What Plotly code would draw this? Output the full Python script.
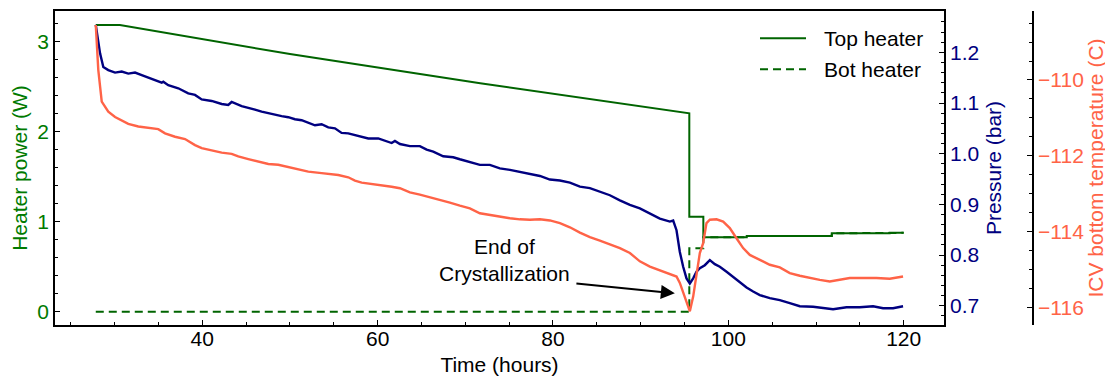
import plotly.graph_objects as go

# ---------------- data ----------------
top_hours = [27.85, 30.6, 50.0, 71.7, 95.55, 95.55, 97.15, 97.15, 102.1, 102.1, 111.8, 111.8, 118.4, 118.4, 120.0]
top_power = [3.185, 3.185, 2.863, 2.538, 2.204, 1.056, 1.056, 0.827, 0.827, 0.841, 0.841, 0.871, 0.871, 0.876, 0.876]

bot_hours = [27.85, 95.55, 95.55, 97.15, 97.15, 102.1, 102.1, 111.8, 111.8, 118.4, 118.4, 120.0]
bot_power = [0.0, 0.0, 0.704, 0.704, 0.827, 0.827, 0.841, 0.841, 0.871, 0.871, 0.876, 0.876]

p_hours = [27.85, 28.34, 28.71, 29.28, 30.05, 30.81, 31.56, 32.33, 33.09, 33.84, 34.61, 35.37,
           35.55, 36.12, 37.26, 38.40, 39.17, 39.93, 41.07, 42.21, 42.96, 43.35, 44.49, 45.25,
           46.01, 46.77, 47.91, 49.05, 49.81, 50.57, 51.33, 52.09, 52.85, 53.61, 54.37, 55.13,
           55.89, 56.65, 57.41, 58.18, 58.93, 60.07, 60.83, 61.60, 61.97, 62.54, 63.68, 64.82,
           65.59, 66.34, 67.48, 68.62, 69.38, 70.52, 71.66, 72.80, 73.94, 75.09, 76.23, 77.37,
           78.51, 79.65, 80.79, 81.93, 83.07, 84.21, 85.35, 86.49, 87.63, 88.77, 89.91, 91.05,
           92.19, 93.33, 93.71, 94.09, 94.47, 94.85, 95.23, 95.61, 95.99, 96.37, 96.75, 97.32,
           97.89, 98.46, 99.03, 99.80, 100.55, 101.31, 102.08, 102.83, 103.59, 104.73, 105.87,
           107.01, 108.15, 109.67, 110.81, 111.95, 113.48, 114.99, 116.51, 117.65, 118.79, 119.93]
pressure = [1.254, 1.198, 1.171, 1.165, 1.160, 1.162, 1.158, 1.160, 1.155, 1.150, 1.145, 1.140,
            1.142, 1.135, 1.129, 1.119, 1.116, 1.107, 1.104, 1.098, 1.096, 1.102, 1.094, 1.091,
            1.087, 1.083, 1.078, 1.074, 1.072, 1.068, 1.066, 1.061, 1.056, 1.058, 1.052, 1.050,
            1.041, 1.040, 1.037, 1.033, 1.030, 1.030, 1.025, 1.021, 1.025, 1.019, 1.015, 1.015,
            1.008, 1.004, 0.995, 0.993, 0.989, 0.984, 0.978, 0.978, 0.971, 0.968, 0.964, 0.960,
            0.956, 0.949, 0.947, 0.943, 0.935, 0.932, 0.925, 0.918, 0.908, 0.899, 0.892, 0.882,
            0.872, 0.866, 0.868, 0.849, 0.806, 0.777, 0.754, 0.744, 0.754, 0.767, 0.774, 0.780,
            0.790, 0.782, 0.777, 0.767, 0.757, 0.747, 0.736, 0.728, 0.721, 0.715, 0.711,
            0.705, 0.699, 0.698, 0.695, 0.693, 0.697, 0.697, 0.699, 0.695, 0.695, 0.699]

t_hours = [27.85, 28.14, 28.53, 28.91, 29.28, 30.05, 30.81, 31.56, 32.70, 33.84, 34.98, 35.75,
           36.89, 38.03, 39.17, 39.93, 41.07, 42.21, 43.35, 44.10, 45.25, 46.39, 47.53, 48.67,
           49.81, 50.95, 52.09, 53.61, 54.37, 55.51, 56.65, 57.41, 58.18, 59.32, 60.46, 61.60,
           62.54, 63.68, 64.82, 65.96, 67.10, 68.24, 69.38, 70.52, 71.66, 72.80, 73.94, 75.09,
           76.23, 77.37, 78.51, 79.65, 80.79, 81.93, 83.07, 84.21, 85.35, 86.49, 87.63, 88.77,
           89.91, 91.05, 92.19, 93.33, 94.09, 94.47, 94.85, 95.23, 95.61, 95.99, 96.37, 96.75,
           97.13, 97.51, 97.89, 98.65, 99.41, 100.17, 100.93, 101.69, 102.45, 103.59, 104.73,
           105.87, 107.01, 108.15, 109.29, 110.43, 111.57, 112.71, 113.85, 115.37, 116.89,
           118.41, 119.93]
temperature = [-108.55, -109.74, -110.57, -110.72, -110.84, -110.98, -111.06, -111.16, -111.23,
               -111.27, -111.30, -111.41, -111.50, -111.56, -111.72, -111.80, -111.87, -111.92,
               -111.95, -112.02, -112.09, -112.16, -112.22, -112.24, -112.30, -112.36, -112.42,
               -112.46, -112.48, -112.51, -112.57, -112.66, -112.71, -112.74, -112.77, -112.82,
               -112.86, -112.97, -113.03, -113.10, -113.15, -113.24, -113.32, -113.39, -113.52,
               -113.56, -113.62, -113.65, -113.68, -113.69, -113.68, -113.71, -113.78, -113.89,
               -114.03, -114.15, -114.24, -114.33, -114.44, -114.57, -114.79, -114.93, -115.03,
               -115.12, -115.19, -115.36, -115.63, -115.89, -116.11, -115.72, -115.19, -114.57,
               -114.31, -113.78, -113.69, -113.68, -113.74, -113.91, -114.18, -114.44, -114.62,
               -114.75, -114.88, -114.95, -115.10, -115.17, -115.23, -115.28, -115.32, -115.28,
               -115.23, -115.23, -115.23, -115.25, -115.19]

x_ticks = [40, 60, 80, 100, 120]
power_ticks = [0, 1, 2, 3]
pressure_ticks = [0.7, 0.8, 0.9, 1.0, 1.1, 1.2]
temp_ticks = [-116, -114, -112, -110]

legend_names = ["Top heater", "Bot heater"]

# ---------------- styling ----------------
FONT = "Liberation Sans, Arial, sans-serif"
FS = 21
GREEN = "#006400"
GREEN_TXT = "#007a00"
NAVY = "#000080"
TOMATO = "#ff6347"

OFF = 8  # default page margin of the html body
PAGE_W, PAGE_H = 1113, 376
W, H = PAGE_W - OFF, PAGE_H - OFF
# page pixel positions of the plot frame in the reference
L, R_EDGE, T, B = 55 - OFF, 1033 - OFF, 11 - OFF, 325 - OFF
plot_right = 944 - OFF
x_dom_end = (plot_right - L) / (R_EDGE - L)


def px_x(px):
    return (px - OFF - L) / (R_EDGE - L)


def px_y(py):
    return (B - (py - OFF)) / (B - T)


fig = go.Figure()
fig.add_trace(go.Scatter(x=top_hours, y=top_power, mode="lines", name=legend_names[0],
                         line=dict(color=GREEN, width=2), yaxis="y"))
fig.add_trace(go.Scatter(x=bot_hours, y=bot_power, mode="lines", name=legend_names[1],
                         line=dict(color=GREEN, width=2, dash="8px,5px"), yaxis="y"))
fig.add_trace(go.Scatter(x=p_hours, y=pressure, mode="lines", name="Pressure",
                         line=dict(color=NAVY, width=2.4), yaxis="y2"))
fig.add_trace(go.Scatter(x=t_hours, y=temperature, mode="lines", name="ICV temperature",
                         line=dict(color=TOMATO, width=2.4), yaxis="y3"))

axis_common = dict(showgrid=False, zeroline=False, showline=True, linecolor="black",
                   linewidth=1.8, ticks="inside", ticklen=5, tickwidth=1.2, automargin=False,
                   tickcolor="black")

fig.update_layout(
    width=W, height=H,
    margin=dict(l=L, r=W - R_EDGE, t=T, b=H - B, autoexpand=False),
    plot_bgcolor="white", paper_bgcolor="white",
    font=dict(family=FONT, size=FS, color="black"),
    showlegend=False,
    xaxis=dict(**axis_common, domain=[0, x_dom_end], range=[23.2, 124.6],
               tickvals=x_ticks, mirror=True, ticklabelstandoff=-6,
               tickfont=dict(family=FONT, size=FS, color="black"),
               minor=dict(dtick=5, tick0=0, ticks="inside", ticklen=3, tickcolor="black"),
               title=dict(text="Time (hours)", font=dict(size=FS, color="black"), standoff=8)),
    yaxis=dict(**axis_common, range=[-0.148, 3.341], tickvals=power_ticks, mirror=True,
               tickfont=dict(family=FONT, size=FS, color=GREEN_TXT),
               minor=dict(dtick=0.2, tick0=0, ticks="inside", ticklen=3, tickcolor="black"),
               title=dict(text="Heater power (W)", font=dict(size=FS, color=GREEN_TXT), standoff=5)),
    yaxis2=dict(**axis_common, overlaying="y", side="right", anchor="x",
                range=[0.662, 1.2815], tickvals=pressure_ticks, tickformat=".1f",
                tickfont=dict(family=FONT, size=FS, color=NAVY),
                minor=dict(dtick=0.02, tick0=0.7, ticks="inside", ticklen=3, tickcolor="black"),
                title=dict(text="Pressure (bar)", font=dict(size=FS, color=NAVY), standoff=8)),
    yaxis3=dict(**axis_common, overlaying="y", side="right", anchor="free", position=1.0,
                range=[-116.47, -108.18], tickvals=temp_ticks,
                tickfont=dict(family=FONT, size=FS, color=TOMATO),
                minor=dict(dtick=0.5, tick0=-116, ticks="inside", ticklen=3, tickcolor="black"),
                title=dict(text="ICV bottom temperature (C)", font=dict(size=FS, color=TOMATO), standoff=4)),
)

# legend drawn by hand to match the reference's long line samples
legend_rows = [(38.3, "solid"), (69.3, "8px,5px")]
for name, (row_y, dash) in zip(legend_names, legend_rows):
    fig.add_shape(type="line", xref="paper", yref="paper",
                  x0=px_x(760), x1=px_x(806), y0=px_y(row_y), y1=px_y(row_y),
                  line=dict(color=GREEN, width=2, dash=dash))
    fig.add_annotation(xref="paper", yref="paper", x=px_x(822), y=px_y(row_y), text=name,
                       showarrow=False, xanchor="left", yanchor="middle",
                       font=dict(family=FONT, size=FS, color="black"))

fig.add_annotation(x=74.5, y=0.574, xref="x", yref="y", text="End of<br>Crystallization",
                   showarrow=False, font=dict(family=FONT, size=FS, color="black"), align="center")
fig.add_annotation(x=93.9, y=0.204, xref="x", yref="y", ax=82.5, ay=0.316, axref="x", ayref="y",
                   text="", showarrow=True, arrowhead=2, arrowsize=1.4, arrowwidth=2, arrowcolor="black")

fig.write_html("out.html")
